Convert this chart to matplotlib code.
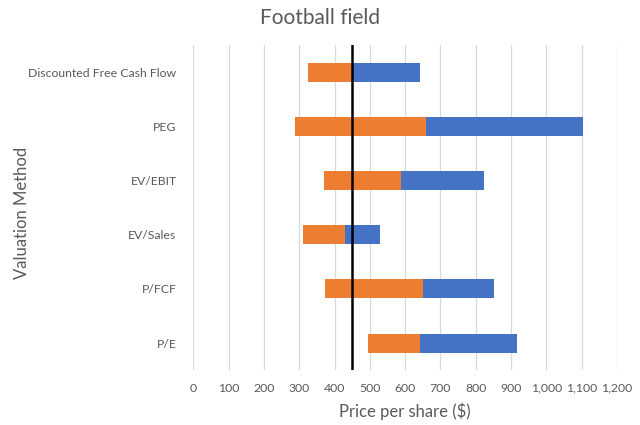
import matplotlib.pyplot as plt
from matplotlib.ticker import FuncFormatter, MultipleLocator

# valuation ranges (low, mid, high), bottom to top
methods = ['P/E', 'P/FCF', 'EV/Sales', 'EV/EBIT', 'PEG', 'Discounted Free Cash Flow']
low = [496, 372, 310, 370, 289, 326]
mid = [641, 650, 431, 588, 658, 450]
high = [917, 852, 528, 824, 1103, 642]
current_price = 450

plt.rcParams['font.family'] = ['Lato', 'DejaVu Sans']
grey = '#595959'

fig = plt.figure(figsize=(6.4, 4.25), dpi=100)
ax = fig.add_axes([0.302, 0.129, 0.662, 0.765])

y = range(len(methods))
h = 0.35
ax.barh(y, [m - l for l, m in zip(low, mid)], left=low, height=h, color='#ED7D31', zorder=2)
ax.barh(y, [hi - m for m, hi in zip(mid, high)], left=mid, height=h, color='#4472C4', zorder=2)
ax.axvline(current_price, color='black', lw=1.8, zorder=3)

ax.set_xlim(0, 1200)
ax.set_ylim(-0.5, len(methods) - 0.5)
ax.xaxis.set_major_locator(MultipleLocator(100))
ax.xaxis.set_major_formatter(FuncFormatter(lambda v, p: f'{int(v):,}'))
ax.set_yticks(list(y))
ax.set_yticklabels(methods)
ax.grid(axis='x', color='#d9d9d9', lw=0.9, zorder=0)
for s in ax.spines.values():
    s.set_visible(False)
ax.tick_params(length=0, colors=grey, labelsize=8.8)
ax.tick_params(axis='x', pad=9)
ax.tick_params(axis='y', pad=12)

ax.set_xlabel('Price per share ($)', color=grey, fontsize=12, labelpad=6)
fig.text(22 / 640, 0.5, 'Valuation Method', rotation=90, ha='center', va='center',
         color=grey, fontsize=12)
fig.text(0.5, 0.958, 'Football field', ha='center', va='center', color=grey, fontsize=15)

fig.savefig('out.png', dpi=100)
